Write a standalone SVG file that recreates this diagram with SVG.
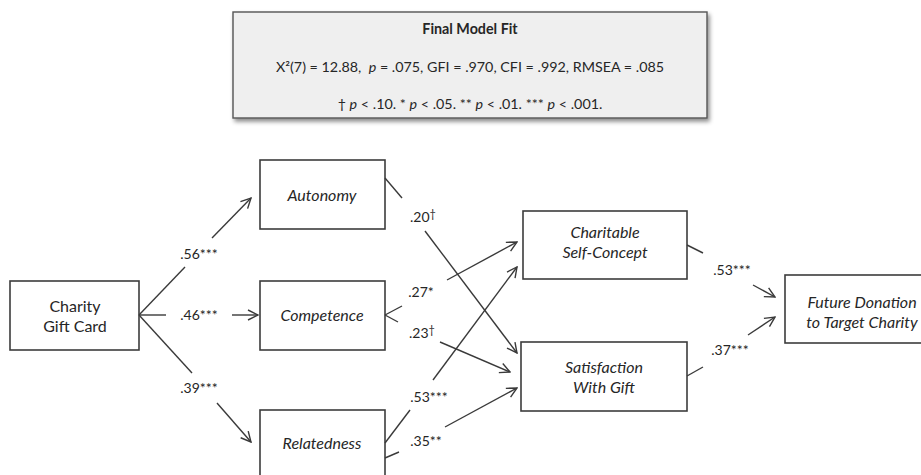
<svg xmlns="http://www.w3.org/2000/svg" width="921" height="475" viewBox="0 0 921 475">
<style>
text{font-family:Lato,"Open Sans","Liberation Sans",sans-serif;fill:#262626}
.node rect{fill:#fff;stroke:#3c3c3c;stroke-width:1.6}
.nt{font-size:16px;text-anchor:middle}
.it{font-style:italic}
.lbl{font-size:14px;text-anchor:middle}
.fit{font-size:14.3px;text-anchor:middle}
#edges line{stroke:#3a3a3a;stroke-width:1.4}
#edges line.ar{marker-end:url(#arr)}
</style>
<defs>
<marker id="arr" viewBox="0 0 12 12" refX="11" refY="6" markerWidth="12" markerHeight="12" markerUnits="userSpaceOnUse" orient="auto">
<path d="M1,1 L11,6 L1,11" fill="none" stroke="#3a3a3a" stroke-width="1.4"/>
</marker>
<filter id="sh" x="-5%" y="-10%" width="115%" height="130%">
<feDropShadow dx="2" dy="3" stdDeviation="2" flood-color="#000" flood-opacity="0.45"/>
</filter>
</defs>

<g id="fitbox">
<rect x="233" y="12" width="474" height="106" fill="#efefef" stroke="#555" stroke-width="1.4" filter="url(#sh)"/>
<text class="fit" x="470" y="34" font-weight="bold" font-size="14px">Final Model Fit</text>
<text class="fit" x="470" y="72">X²(7) = 12.88,&#160; <tspan font-style="italic">p</tspan> = .075, GFI = .970, CFI = .992, RMSEA = .085</text>
<text class="fit" x="470" y="109">† <tspan font-style="italic">p</tspan> &lt; .10. * <tspan font-style="italic">p</tspan> &lt; .05. ** <tspan font-style="italic">p</tspan> &lt; .01. *** <tspan font-style="italic">p</tspan> &lt; .001.</text>
</g>

<g id="charity" class="node">
<rect x="10" y="281" width="129" height="69"/>
<text class="nt" x="75" y="312">Charity</text>
<text class="nt" x="75" y="332">Gift Card</text>
</g>
<g id="autonomy" class="node">
<rect x="260" y="160" width="125" height="69"/>
<text class="nt it" x="322" y="201">Autonomy</text>
</g>
<g id="competence" class="node">
<rect x="260" y="281" width="125" height="69"/>
<text class="nt it" x="322" y="321">Competence</text>
</g>
<g id="relatedness" class="node">
<rect x="260" y="410" width="125" height="69"/>
<text class="nt it" x="322" y="449">Relatedness</text>
</g>
<g id="selfconcept" class="node">
<rect x="523" y="211" width="164" height="68"/>
<text class="nt it" x="605" y="238">Charitable</text>
<text class="nt it" x="605" y="258">Self-Concept</text>
</g>
<g id="satisfaction" class="node">
<rect x="521" y="342" width="166" height="69"/>
<text class="nt it" x="604" y="373">Satisfaction</text>
<text class="nt it" x="604" y="393">With Gift</text>
</g>
<g id="future" class="node">
<rect x="785" y="275" width="150" height="68"/>
<text class="nt it" x="862" y="308">Future Donation</text>
<text class="nt it" x="862" y="328">to Target Charity</text>
</g>

<g id="edges">
<line x1="139" y1="315" x2="185" y2="267"/>
<line class="ar" x1="212" y1="238" x2="251" y2="198"/>
<line x1="139" y1="315" x2="166" y2="315"/>
<line class="ar" x1="232" y1="315" x2="258" y2="315"/>
<line x1="139" y1="315" x2="192" y2="373"/>
<line class="ar" x1="217" y1="403" x2="251" y2="442"/>

<line x1="385" y1="178" x2="402" y2="198"/>
<line class="ar" x1="425" y1="231" x2="517" y2="353"/>
<line x1="385" y1="315" x2="402" y2="306"/>
<line class="ar" x1="447" y1="280" x2="517" y2="242"/>
<line x1="385" y1="315" x2="398" y2="322"/>
<line class="ar" x1="440" y1="342" x2="510" y2="372"/>
<line x1="385" y1="443" x2="410" y2="410"/>
<line class="ar" x1="433" y1="380" x2="517" y2="267"/>
<line x1="385" y1="458" x2="399" y2="452"/>
<line class="ar" x1="445" y1="427" x2="517" y2="388"/>

<line x1="687" y1="245" x2="703" y2="253"/>
<line class="ar" x1="753" y1="285" x2="775" y2="297"/>
<line x1="687" y1="376" x2="703" y2="367"/>
<line class="ar" x1="748" y1="335" x2="775" y2="317"/>
</g>

<g id="labels">
<text class="lbl" x="199" y="259">.56***</text>
<text class="lbl" x="199" y="320">.46***</text>
<text class="lbl" x="199" y="393">.39***</text>
<text class="lbl" x="423" y="222">.20<tspan font-size="11px" dy="-4">†</tspan></text>
<text class="lbl" x="421" y="297">.27*</text>
<text class="lbl" x="422" y="338">.23<tspan font-size="11px" dy="-4">†</tspan></text>
<text class="lbl" x="429" y="402">.53***</text>
<text class="lbl" x="426" y="446">.35**</text>
<text class="lbl" x="732" y="275">.53***</text>
<text class="lbl" x="730" y="355">.37***</text>
</g>
</svg>
